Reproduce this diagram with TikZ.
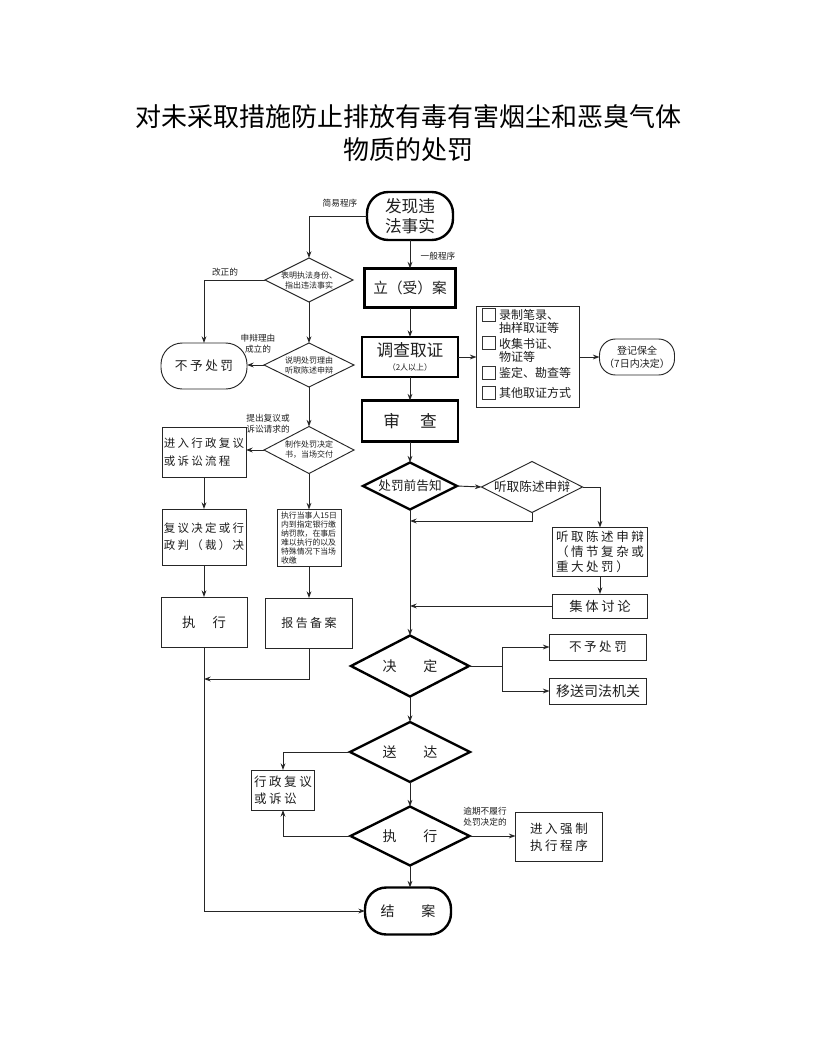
\documentclass[tikz,border=0pt]{standalone}
\usepackage{fontspec}
\setmainfont{Noto Sans CJK SC}
\newfontfamily\lsfont[LetterSpace=20]{Noto Sans CJK SC}
\usetikzlibrary{arrows.meta,shapes.geometric}
\begin{document}
\begin{tikzpicture}[x=0.75pt,y=-0.75pt,
 every node/.style={inner sep=0pt,outer sep=0pt,align=center,text=black!88},
 sz/.style 2 args={minimum width=#1*0.75pt,minimum height=#2*0.75pt},
 bx/.style={draw=black!85,line width=0.7pt,rectangle},
 tbx/.style={draw=black,line width=1.8pt,rectangle},
 dia/.style={draw=black!85,line width=0.7pt,diamond},
 tdia/.style={draw=black,line width=1.8pt,diamond},
 stad/.style={draw=black!85,line width=0.7pt,rectangle,rounded corners=16pt},
 tstad/.style={draw=black,line width=1.8pt,rectangle,rounded corners=16pt},
 chk/.style={draw=black!80,line width=0.7pt,rectangle,minimum width=9.5pt,minimum height=9.5pt},
 arr/.style={draw=black!85,line width=0.7pt,-{Stealth[length=5pt,width=3.6pt]}},
 ln/.style={draw=black!85,line width=0.7pt},
 lab/.style={font=\fontsize{6.5pt}{8pt}\selectfont},
 dtxt/.style={font=\fontsize{6pt}{7.5pt}\selectfont},
 fls/.style={font=\lsfont\fontsize{#1}{13pt}\selectfont},
 fbig/.style={font=\fontsize{12.5pt}{14.5pt}\selectfont},
]
\useasboundingbox[fill=white] (0,0) rectangle (816,1056);

% title
\node[font=\fontsize{19.5pt}{24pt}\selectfont,text=black] (title1) at (408,117) {对未采取措施防止排放有毒有害烟尘和恶臭气体};
\node[font=\fontsize{19.5pt}{24pt}\selectfont,text=black] (title2) at (408,150) {物质的处罚};

% start
\node[tstad,sz={86}{48},fbig] (start) at (410,216) {发现违\\法事实};

% simple procedure (left)
\node[dia,sz={88}{44}] (d1) at (309,280) {};
\node[dtxt] (d1t) at (d1) {表明执法身份、\\指出违法事实};
\node[stad,sz={86}{46},fls=9.5pt] (nocf) at (204,366) {不予处罚};
\node[dia,sz={90}{44}] (d2) at (309,365) {};
\node[dtxt] (d2t) at (d2) {说明处罚理由\\听取陈述申辩};
\node[dia,sz={90}{47}] (d3) at (309,450) {};
\node[dtxt] (d3t) at (d3) {制作处罚决定\\书，当场交付};
\node[bx,sz={84}{50},fls=8.6pt,align=left] (fy) at (204,452) {进入行政复议\\或诉讼流程};
\node[bx,sz={84}{56},fls=8.6pt,align=left] (fyjd) at (204,537) {复议决定或行\\政判（裁）决};
\node[bx,sz={64}{57}] (zxbox) at (309,538) {};
\node[font=\fontsize{5.9pt}{6.8pt}\selectfont,align=left] (zxt) at (zxbox) {执行当事人15日\\内到指定银行缴\\纳罚款，在事后\\难以执行的以及\\特殊情况下当场\\收缴};
\node[bx,sz={86}{50},font=\fontsize{10pt}{12pt}\selectfont] (zx1) at (204,622) {执\hspace{13pt}行};
\node[bx,sz={87}{50},fls=9pt] (bgba) at (309,623) {报告备案};

\node[lab] (l1) at (340,203) {简易程序};
\node[lab] (l2) at (225,272) {改正的};
\node[lab] (l3) at (258,344) {申辩理由\\成立的};
\node[lab] (l4) at (268,424) {提出复议或\\诉讼请求的};

% general procedure (right)
\node[lab] (l5) at (438,256) {一般程序};
\node[tbx,sz={91}{39},font=\fontsize{11pt}{13pt}\selectfont] (la) at (410,288) {立（受）案};
\node[tbx,sz={96}{40}] (dc) at (410,357) {{\fontsize{12.5pt}{13pt}\selectfont 调查取证}\\[-1pt]{\fontsize{6pt}{7pt}\selectfont （2人以上）}};
\node[bx,sz={103}{101}] (ev) at (528,357) {};
\node[chk] (c1) at (489,315) {};
\node[chk] (c2) at (489,343) {};
\node[chk] (c3) at (489,373) {};
\node[chk] (c4) at (489,393) {};
\node[font=\fontsize{9pt}{9.8pt}\selectfont,align=left,anchor=west] (e1) at (499,321) {录制笔录、\\抽样取证等};
\node[font=\fontsize{9pt}{9.8pt}\selectfont,align=left,anchor=west] (e2) at (499,350) {收集书证、\\物证等};
\node[font=\fontsize{9pt}{9.8pt}\selectfont,align=left,anchor=west] (e3) at (499,373) {鉴定、勘查等};
\node[font=\fontsize{9pt}{9.8pt}\selectfont,align=left,anchor=west] (e4) at (499,393) {其他取证方式};
\node[stad,rounded corners=12pt,sz={75}{36},font=\fontsize{7.5pt}{10pt}\selectfont] (dj) at (637,357) {登记保全\\（7日内决定）};
\node[tbx,sz={96}{41},fbig] (sc) at (410,421) {审\hspace{15pt}查};
\node[tdia,sz={94}{47}] (gz) at (410,486) {};
\node[font=\fontsize{9.5pt}{11pt}\selectfont] (gzt) at (gz) {处罚前告知};
\node[dia,sz={101}{51}] (tq) at (532,487) {};
\node[font=\fontsize{9.5pt}{11pt}\selectfont] (tqt) at (tq) {听取陈述申辩};
\node[bx,sz={95}{49},font=\lsfont\fontsize{9.4pt}{11.2pt}\selectfont,align=left] (tqbox) at (600,552) {听取陈述申辩\\（情节复杂或\\重大处罚）};
\node[bx,sz={95}{24},fls=10pt] (jt) at (600,606) {集体讨论};
\node[tdia,sz={118}{61}] (jd) at (410,666) {};
\node[font=\fontsize{10.5pt}{12pt}\selectfont] (jdt) at (jd) {决\hspace{20pt}定};
\node[bx,sz={97}{26},fls=9.4pt] (nocf2) at (598,647) {不予处罚};
\node[bx,sz={97}{26},font=\fontsize{10.5pt}{12pt}\selectfont] (ys) at (598,691) {移送司法机关};
\node[tdia,sz={120}{60}] (sd) at (410,752) {};
\node[font=\fontsize{10.5pt}{12pt}\selectfont] (sdt) at (sd) {送\hspace{20pt}达};
\node[bx,sz={63}{40},fls=9.4pt,align=left] (xz) at (283,790) {行政复议\\或诉讼};
\node[tdia,sz={119}{59}] (zxd) at (410,836) {};
\node[font=\fontsize{10.5pt}{12pt}\selectfont] (zxdt) at (zxd) {执\hspace{20pt}行};
\node[lab] (l6) at (485,817) {逾期不履行\\处罚决定的};
\node[bx,sz={87}{49},fls=9.4pt] (qz) at (559,837) {进入强制\\执行程序};
\node[tstad,sz={86}{47},font=\fontsize{10.5pt}{12pt}\selectfont] (ja) at (408,911) {结\hspace{20pt}案};

% helper coordinates on trunk lines
\coordinate (m1) at (410,521);
\coordinate (jb) at (502,666);
\coordinate (mg) at (204,679);

% connectors left
\draw[arr] (start.west) -| (d1.north);
\draw[arr] (d1.west) -| (nocf.north);
\draw[arr] (d1.south) -- (d2.north);
\draw[arr] (d2.west) -- (d2.west -| nocf.east);
\draw[arr] (d2.south) -- (d3.north);
\draw[arr] (d3.west) -- (d3.west -| fy.east);
\draw[arr] (fy.south) -- (fyjd.north);
\draw[arr] (d3.south) -- (zxbox.north);
\draw[arr] (fyjd.south) -- (zx1.north);
\draw[arr] (zxbox.south) -- (bgba.north);
\draw[arr] (bgba.south) |- (mg);
\draw[arr] (zx1.south) |- (ja.west);

% connectors right
\draw[arr] (start.south) -- (la.north);
\draw[arr] (la.south) -- (dc.north);
\draw[arr] (dc.east) -- (ev.west);
\draw[arr] (ev.east) -- (dj.west);
\draw[arr] (dc.south) -- (sc.north);
\draw[arr] (sc.south) -- (gz.north);
\draw[arr] (gz.east) -- (tq.west);
\draw[arr] (tq.south) |- (m1);
\draw[arr] (tq.east) -| (tqbox.north);
\draw[arr] (tqbox.south) -- (jt.north);
\draw[arr] (jt.west) -- (jt.west -| m1);
\draw[arr] (gz.south) -- (jd.north);
\draw[ln] (jd.east) -- (jb);
\draw[arr] (jb) |- (nocf2.west);
\draw[arr] (jb) |- (ys.west);
\draw[arr] (jd.south) -- (sd.north);
\draw[arr] (sd.west) -| (xz.north);
\draw[arr] (sd.south) -- (zxd.north);
\draw[arr] (zxd.west) -| (xz.south);
\draw[arr] (zxd.east) -- (zxd.east -| qz.west);
\draw[arr] (zxd.south) -- (zxd.south |- ja.north);
\end{tikzpicture}
\end{document}
